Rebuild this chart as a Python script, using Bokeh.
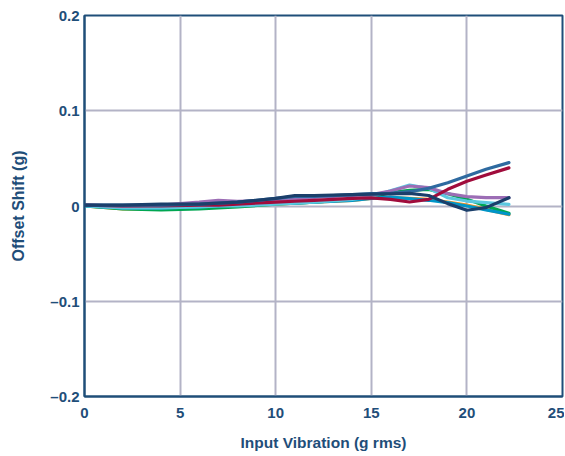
from bokeh.plotting import figure
from bokeh.embed import file_html
from bokeh.resources import INLINE
from bokeh.models import FixedTicker, Range1d

x_vals = [0, 2, 4, 6, 7, 8, 10, 11, 12, 14, 15, 16, 17, 18, 19, 20, 21, 22.2]

orange = [0.000, -0.003, -0.003, -0.002, -0.001, 0.000, 0.002, 0.003, 0.004, 0.006, 0.008, 0.0087, 0.008, 0.007, 0.0042, 0.001, -0.0035, -0.009]
green = [0.000, -0.003, -0.004, -0.003, -0.002, -0.001, 0.002, 0.003, 0.004, 0.007, 0.009, 0.014, 0.0165, 0.0175, 0.013, 0.007, 0.000, -0.0077]
teal = [0.000, -0.002, -0.002, -0.001, 0.000, 0.001, 0.003, 0.003, 0.004, 0.006, 0.008, 0.0094, 0.0077, 0.006, 0.0035, 0.000, -0.004, -0.0087]
cyan = [0.000, -0.002, -0.002, -0.001, 0.000, 0.000, 0.002, 0.003, 0.004, 0.007, 0.010, 0.016, 0.022, 0.0186, 0.0087, 0.0052, 0.0035, 0.0017]
purple = [0.001, 0.000, 0.001, 0.004, 0.006, 0.005, 0.006, 0.007, 0.009, 0.011, 0.012, 0.0158, 0.021, 0.0193, 0.013, 0.0098, 0.0087, 0.0087]
crimson = [0.001, 0.000, 0.000, 0.001, 0.001, 0.002, 0.004, 0.005, 0.006, 0.008, 0.0085, 0.007, 0.0042, 0.007, 0.0175, 0.026, 0.0325, 0.040]
steel = [0.001, 0.001, 0.001, 0.002, 0.003, 0.004, 0.008, 0.010, 0.010, 0.012, 0.013, 0.0133, 0.015, 0.0186, 0.0245, 0.0315, 0.0385, 0.0455]
navy = [0.001, 0.001, 0.002, 0.002, 0.003, 0.004, 0.008, 0.011, 0.011, 0.012, 0.0125, 0.0127, 0.0133, 0.011, 0.0025, -0.0045, -0.0017, 0.0087]

series = [
    (orange, "#f7941d"),
    (green, "#00a651"),
    (teal, "#0095c8"),
    (cyan, "#5bc8e0"),
    (purple, "#9c6db5"),
    (crimson, "#a00c3c"),
    (steel, "#2e6aa0"),
    (navy, "#1b3f6b"),
]

x_ticks = [0, 5, 10, 15, 20, 25]
y_ticks = [-0.2, -0.1, 0, 0.1, 0.2]
y_tick_labels = {-0.2: "\u20130.2", -0.1: "\u20130.1", 0: "0", 0.1: "0.1", 0.2: "0.2"}
x_title = "Input Vibration (g rms)"
y_title = "Offset Shift (g)"

TXT = "#1f4e79"
GRID = "#b3b3c6"
FONT = "Liberation Sans"

p = figure(width=564, height=456, output_backend="svg", toolbar_location=None,
           x_range=Range1d(0, 25), y_range=Range1d(-0.2, 0.2),
           min_border_left=84, min_border_right=2, min_border_top=15, min_border_bottom=60)

for ys, c in series:
    p.line(x_vals, ys, line_color=c, line_width=3.2, line_join="round", line_cap="round")

p.xaxis.ticker = FixedTicker(ticks=x_ticks)
p.yaxis.ticker = FixedTicker(ticks=y_ticks)
p.yaxis.major_label_overrides = y_tick_labels

for ax in (p.xaxis[0], p.yaxis[0]):
    ax.axis_line_color = TXT
    ax.axis_line_width = 2
    ax.major_tick_line_color = None
    ax.minor_tick_line_color = None
    ax.major_tick_out = 0
    ax.major_tick_in = 0
    ax.minor_tick_out = 0
    ax.minor_tick_in = 0
    ax.major_label_text_font = FONT
    ax.major_label_text_font_style = "bold"
    ax.major_label_text_font_size = "15px"
    ax.major_label_text_color = TXT
    ax.axis_label_text_font = FONT
    ax.axis_label_text_font_style = "bold"
    ax.axis_label_text_color = TXT

p.xaxis.axis_label = x_title
p.yaxis.axis_label = y_title
p.xaxis.axis_label_text_font_size = "15.5px"
p.yaxis.axis_label_text_font_size = "16px"
p.xaxis.major_label_standoff = 11
p.xaxis.axis_label_standoff = 13
p.yaxis.major_label_standoff = 5
p.yaxis.axis_label_standoff = 20

p.xgrid.grid_line_color = GRID
p.ygrid.grid_line_color = GRID
p.xgrid.grid_line_width = 2
p.ygrid.grid_line_width = 2

p.outline_line_color = TXT
p.outline_line_width = 2
p.outline_line_alpha = 1

open("out.html", "w").write(file_html(p, INLINE))
